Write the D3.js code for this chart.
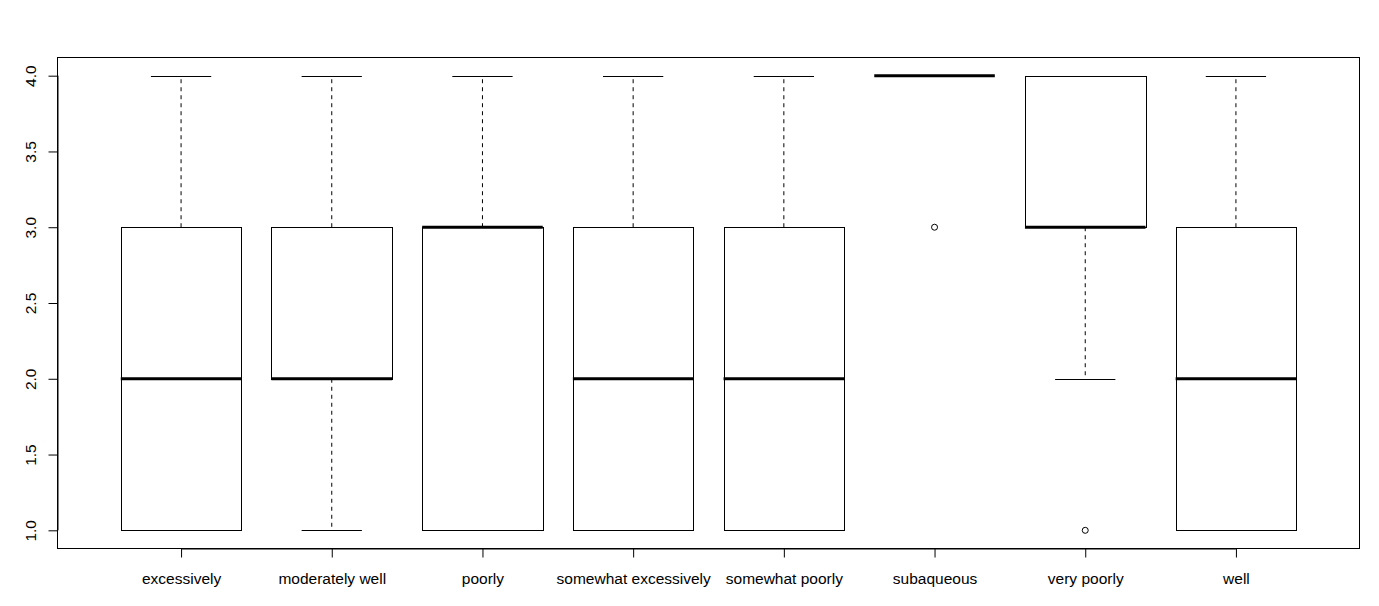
<!DOCTYPE html>
<html><head><meta charset="utf-8">
<script src="https://cdn.jsdelivr.net/npm/d3@7"></script>
<style>body{margin:0;background:#fff}svg{display:block}text{font-family:"Liberation Sans",Arial,sans-serif;}</style>
</head><body>
<svg id="c" width="1379" height="606"></svg>
<script>
const categories = ["excessively","moderately well","poorly","somewhat excessively","somewhat poorly","subaqueous","very poorly","well"];
const lowWhisker = [1,1,1,1,1,4,2,1];
const q1         = [1,2,1,1,1,4,3,1];
const medians    = [2,2,3,2,2,4,3,2];
const q3         = [3,3,3,3,3,4,4,3];
const highWhisker= [4,4,4,4,4,4,4,4];
const outliers   = [[],[],[],[],[],[3],[1],[]];
const yTicks = [1.0,1.5,2.0,2.5,3.0,3.5,4.0];

const svg = d3.select("#c");
const L=57.5, R=1359.5, T=57.5, B=548.5;
const n = categories.length;
const x = d3.scaleLinear().domain([0.5-0.04*n, n+0.5+0.04*n]).range([L,R]);
const y = d3.scaleLinear().domain([1-0.04*3, 4+0.04*3]).range([B,T]);
const bw = 0.8;

const g = svg.append("g");
categories.forEach((c,i)=>{
  const cx = x(i+1);
  const x0 = x(i+1-bw/2), x1 = x(i+1+bw/2);
  const cw0 = x(i+1-bw/4), cw1 = x(i+1+bw/4);
  // whiskers
  if (highWhisker[i] > q3[i]) {
    g.append("line").attr("x1",cx).attr("x2",cx).attr("y1",y(q3[i])).attr("y2",y(highWhisker[i]))
      .attr("stroke","#000").attr("stroke-dasharray","4,4");
  }
  if (lowWhisker[i] < q1[i]) {
    g.append("line").attr("x1",cx).attr("x2",cx).attr("y1",y(q1[i])).attr("y2",y(lowWhisker[i]))
      .attr("stroke","#000").attr("stroke-dasharray","4,4");
  }
  [lowWhisker[i], highWhisker[i]].forEach(v=>{
    g.append("line").attr("x1",cw0).attr("x2",cw1).attr("y1",Math.round(y(v))+0.5).attr("y2",Math.round(y(v))+0.5)
      .attr("stroke","#000").attr("stroke-width",1);
  });
  g.append("rect").attr("x",Math.round(x0)+0.5).attr("y",Math.round(y(q3[i]))+0.5)
    .attr("width",Math.round(x1)-Math.round(x0)).attr("height",Math.round(y(q1[i]))-Math.round(y(q3[i])))
    .attr("fill","none").attr("stroke","#000");
  g.append("line").attr("x1",x0).attr("x2",x1).attr("y1",y(medians[i])).attr("y2",y(medians[i]))
    .attr("stroke","#000").attr("stroke-width",3);
  outliers[i].forEach(v=>{
    g.append("circle").attr("cx",cx).attr("cy",y(v)).attr("r",3).attr("fill","none").attr("stroke","#000");
  });
});

// frame
svg.append("rect").attr("x",L).attr("y",T).attr("width",R-L).attr("height",B-T).attr("fill","none").attr("stroke","#000");

// y axis
const ya = svg.append("g").attr("transform",`translate(${L},0)`)
  .call(d3.axisLeft(y).tickValues(yTicks).tickFormat(d3.format(".1f")).tickSize(9).tickSizeOuter(0));
ya.select(".domain").attr("d",`M0.5,${y(1)}V${y(4)}`).attr("stroke","#000");
ya.selectAll(".tick line").attr("stroke","#000");
ya.selectAll(".tick text").attr("font-size","15.5px").attr("fill","#000")
  .attr("transform","rotate(-90)").attr("x",0).attr("y",-22).attr("dy",0).attr("text-anchor","middle");

// x axis
const xa = svg.append("g").attr("transform",`translate(0,${B})`)
  .call(d3.axisBottom(x).tickValues(d3.range(1,n+1)).tickFormat(d=>categories[d-1]).tickSize(9).tickSizeOuter(0));
xa.select(".domain").attr("d",`M${x(1)},0.5H${x(n)}`).attr("stroke","#000");
xa.selectAll(".tick line").attr("stroke","#000");
xa.selectAll(".tick text").attr("font-size","15.5px").attr("fill","#000").attr("y",35).attr("dy",0);
</script>
</body></html>
